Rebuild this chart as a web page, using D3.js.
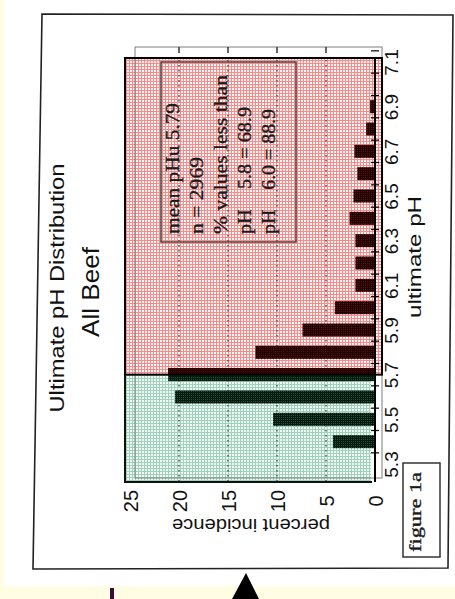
<!DOCTYPE html>
<html>
<head>
<meta charset=utf-8>
<title>Ultimate pH Distribution</title>
<script src="https://cdnjs.cloudflare.com/ajax/libs/d3/7.8.5/d3.min.js"></script>
<style>
  body { margin: 0; background: #fffee4; }
  svg { display: block; }
  .sans { font-family: "Liberation Sans", Arial, sans-serif; fill: #111; }
  .serif { font-family: "Liberation Serif", "Times New Roman", serif; fill: #1a1a1a; stroke: #1a1a1a; stroke-width: 0.35px; }
</style>
</head>
<body>
<script>
// histogram bins (bar centres, pH) and percent incidence
var phBins    = [5.4, 5.5, 5.6, 5.7, 5.8, 5.9, 6.0, 6.1, 6.2, 6.3, 6.4, 6.5, 6.6, 6.7, 6.8, 6.9, 7.0, 7.1];
var incidence = [4.3, 10.4, 20.4, 21.1, 12.2, 7.4, 4.1, 2.0, 2.0, 2.0, 2.6, 2.2, 1.8, 2.1, 0.9, 0.5, 0.1, 0];

// axis ticks
var phTicks  = [5.3, 5.5, 5.7, 5.9, 6.1, 6.3, 6.5, 6.7, 6.9, 7.1];
var pctTicks = [0, 5, 10, 15, 20, 25];
var gridPct  = [5, 10, 15, 20];

// pH where the shading changes from green to pink
var splitPH = 5.7;

// text in the note box
var statLines = ["mean pHu 5.79", "n = 2969", "% values less than", "pH    5.8 = 68.9", "pH    6.0 = 88.9"];
var statLens  = [131, 77, 159, 127, 125];

var W = 455, H = 599;

var svg = d3.select("body").append("svg")
  .attr("width", W)
  .attr("height", H);

// patterns to fake the halftone of the scan
var defs = svg.append("defs");
function mesh(id, bg, fg, size) {
  var p = defs.append("pattern")
    .attr("id", id)
    .attr("patternUnits", "userSpaceOnUse")
    .attr("width", size).attr("height", size);
  p.append("rect").attr("width", size).attr("height", size).attr("fill", bg);
  p.append("rect").attr("width", size).attr("height", 1).attr("fill", fg);
  p.append("rect").attr("width", 1).attr("height", size).attr("fill", fg);
}
mesh("pinkMesh", "#fff4f4", "#f48c8c", 3);
mesh("greenMesh", "#f2fbf6", "#9ed3b9", 3);
mesh("redBar", "#5e0c0c", "#1e0000", 2);
mesh("greenBar", "#22523c", "#031a0c", 2);

// page: cream strip + white scan area
svg.append("rect").attr("width", W).attr("height", H).attr("fill", "#fffee4");
svg.append("rect").attr("x", 4).attr("y", 0).attr("width", W - 4).attr("height", 586).attr("fill", "#ffffff");

// outer frame of the scanned figure (slightly skewed)
svg.append("path")
  .attr("d", "M42,14 L453,15 L448,568 L33,569 Z")
  .attr("fill", "none")
  .attr("stroke", "#222")
  .attr("stroke-width", 1.6);

// scales: value runs right-to-left, pH runs bottom-to-top (figure is turned on its side)
var x = d3.scaleLinear().domain([0, 25]).range([375, 130]);
var y = d3.scaleLinear().domain([5.3, 7.1]).range([464, 62]);
var barHalf = 6.5;

var plotTop = 58, plotBottom = 482, plotLeft = 125, plotRight = 382;

// shaded regions
svg.append("rect")
  .attr("x", plotLeft).attr("y", plotTop)
  .attr("width", plotRight - plotLeft).attr("height", y(splitPH) - plotTop)
  .attr("fill", "url(#pinkMesh)");
svg.append("rect")
  .attr("x", plotLeft).attr("y", y(splitPH))
  .attr("width", x(0) - 4 - plotLeft).attr("height", plotBottom - y(splitPH))
  .attr("fill", "url(#greenMesh)");

// original plot frame (thin grey), shows through the shading
svg.append("rect")
  .attr("x", 135).attr("y", 47)
  .attr("width", plotRight - 135).attr("height", 478 - 47)
  .attr("fill", "none")
  .attr("stroke", "#777")
  .attr("stroke-width", 1.2)
  .attr("opacity", 0.8);

// dotted grid lines
svg.selectAll("line.grid")
  .data(gridPct)
  .enter().append("line")
  .attr("class", "grid")
  .attr("x1", function(d) { return x(d); })
  .attr("x2", function(d) { return x(d); })
  .attr("y1", plotTop + 2)
  .attr("y2", plotBottom)
  .attr("stroke", "#444")
  .attr("stroke-width", 1.3)
  .attr("stroke-dasharray", "1.5,3.5");

// small ticks on the top edge of the grey frame
svg.selectAll("line.topTick")
  .data(gridPct)
  .enter().append("line")
  .attr("class", "topTick")
  .attr("x1", function(d) { return x(d); })
  .attr("x2", function(d) { return x(d); })
  .attr("y1", 47).attr("y2", 53)
  .attr("stroke", "#333").attr("stroke-width", 1.5);

// bars
svg.selectAll("rect.bar")
  .data(phBins.map(function(p, i) { return {ph: p, v: incidence[i]}; }))
  .enter().append("rect")
  .attr("class", "bar")
  .attr("x", function(d) { return x(d.v); })
  .attr("y", function(d) { return y(d.ph) - barHalf; })
  .attr("width", function(d) { return x(0) - x(d.v); })
  .attr("height", barHalf * 2)
  .attr("fill", function(d) { return d.ph > splitPH ? "url(#redBar)" : "url(#greenBar)"; });

// the 5.7 bar straddles the colour boundary: top half in red
var split = phBins.indexOf(splitPH);
svg.append("rect")
  .attr("x", x(incidence[split]))
  .attr("y", y(splitPH) - barHalf)
  .attr("width", x(0) - x(incidence[split]))
  .attr("height", barHalf)
  .attr("fill", "url(#redBar)");

// region borders
svg.append("rect")
  .attr("x", plotLeft).attr("y", plotTop)
  .attr("width", plotRight - plotLeft).attr("height", y(splitPH) - plotTop)
  .attr("fill", "none")
  .attr("stroke", "#000")
  .attr("stroke-width", 2);
svg.append("path")
  .attr("d", "M" + plotLeft + "," + y(splitPH) + " V" + plotBottom + " H" + (x(0) - 3))
  .attr("fill", "none")
  .attr("stroke", "#111")
  .attr("stroke-width", 2);

// pH axis line with ticks at bin edges
svg.append("line")
  .attr("x1", x(0)).attr("x2", x(0))
  .attr("y1", plotTop).attr("y2", plotBottom)
  .attr("stroke", "#000").attr("stroke-width", 2);
var edges = phBins.map(function(p) { return p - 0.05; }).concat([7.15]);
svg.selectAll("line.edge")
  .data(edges)
  .enter().append("line")
  .attr("class", "edge")
  .attr("x1", x(0) - 4).attr("x2", x(0) + 4)
  .attr("y1", function(d) { return y(d); })
  .attr("y2", function(d) { return y(d); })
  .attr("stroke", "#000").attr("stroke-width", 1.2);

// pH tick labels (rotated)
var phAxis = d3.axisRight(y)
  .tickValues(phTicks)
  .tickSize(0)
  .tickFormat(d3.format(".1f"));
var gPh = svg.append("g")
  .attr("transform", "translate(" + (x(0) + 3) + ",0)")
  .call(phAxis);
gPh.select(".domain").remove();
gPh.selectAll("text")
  .attr("class", "sans")
  .attr("x", null).attr("dy", null)
  .attr("text-anchor", "middle")
  .style("font-size", "19px")
  .attr("transform", "translate(20,0) rotate(-90)");

// percent tick labels (rotated)
var pctAxis = d3.axisBottom(x)
  .tickValues(pctTicks)
  .tickSize(0);
var gPct = svg.append("g")
  .attr("transform", "translate(0,501)")
  .call(pctAxis);
gPct.select(".domain").remove();
gPct.selectAll("text")
  .attr("class", "sans")
  .attr("y", null).attr("dy", null)
  .attr("text-anchor", "middle")
  .style("font-size", "20px")
  .attr("transform", "translate(7,0) rotate(-90)");

// axis titles
svg.append("text")
  .attr("class", "sans")
  .attr("transform", "translate(421,257) rotate(-90)")
  .attr("text-anchor", "middle")
  .attr("textLength", 122).attr("lengthAdjust", "spacingAndGlyphs")
  .style("font-size", "18px")
  .text("ultimate pH");

svg.append("text")
  .attr("class", "sans")
  .attr("transform", "translate(251,519) rotate(180)")
  .attr("text-anchor", "middle")
  .attr("textLength", 158).attr("lengthAdjust", "spacingAndGlyphs")
  .style("font-size", "19px")
  .text("percent incidence");

// chart title
svg.append("text")
  .attr("class", "sans")
  .attr("transform", "translate(64,288) rotate(-90)")
  .attr("text-anchor", "middle")
  .attr("textLength", 249).attr("lengthAdjust", "spacingAndGlyphs")
  .style("font-size", "21px")
  .text("Ultimate pH Distribution");

svg.append("text")
  .attr("class", "sans")
  .attr("transform", "translate(99,292) rotate(-90)")
  .attr("text-anchor", "middle")
  .attr("textLength", 90).attr("lengthAdjust", "spacingAndGlyphs")
  .style("font-size", "24px")
  .text("All Beef");

// note box
svg.append("rect")
  .attr("x", 161).attr("y", 62)
  .attr("width", 135).attr("height", 180)
  .attr("fill", "none")
  .attr("stroke", "#444")
  .attr("stroke-width", 1.5);

svg.selectAll("text.stat")
  .data(statLines)
  .enter().append("text")
  .attr("class", "stat serif")
  .attr("transform", function(d, i) { return "translate(" + (179 + 24 * i) + ",234) rotate(-90)"; })
  .attr("textLength", function(d, i) { return statLens[i]; })
  .attr("lengthAdjust", "spacingAndGlyphs")
  .style("white-space", "pre")
  .style("font-size", "19px")
  .text(function(d) { return d; });

// "figure 1a" label
svg.append("rect")
  .attr("x", 403).attr("y", 463)
  .attr("width", 37).attr("height", 94)
  .attr("fill", "none")
  .attr("stroke", "#333")
  .attr("stroke-width", 1.5);
svg.append("text")
  .attr("class", "serif")
  .attr("transform", "translate(421,512) rotate(-90)")
  .attr("text-anchor", "middle")
  .attr("textLength", 80).attr("lengthAdjust", "spacingAndGlyphs")
  .style("font-size", "17px")
  .text("figure 1a");

// bits of the page below the scan
svg.append("rect")
  .attr("x", 110).attr("y", 588)
  .attr("width", 4).attr("height", H - 588)
  .attr("fill", "#3b0d3b");
svg.append("path")
  .attr("d", "M246,573 L259,599 L232,599 Z")
  .attr("fill", "#000");
</script>
</body>
</html>
